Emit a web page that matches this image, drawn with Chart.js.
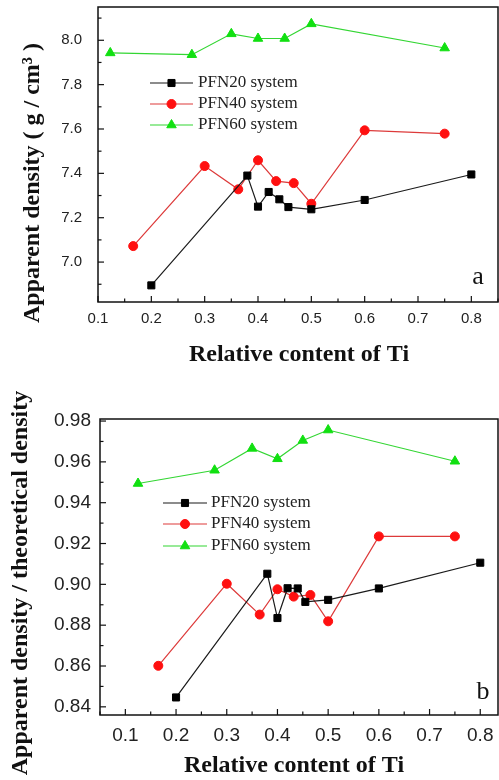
<!DOCTYPE html>
<html>
<head>
<meta charset="utf-8">
<script src="https://cdn.jsdelivr.net/npm/chart.js@4.4.1/dist/chart.umd.min.js"></script>
<style>
    html, body { margin: 0; padding: 0; background: #fff; }
    #wrap { position: relative; width: 499px; height: 780px; }
    .panel { position: absolute; left: 0; width: 499px; }
</style>
</head>
<body>
<div id="wrap">
    <div class="panel" style="top:0;height:380px"><canvas id="chartA" width="499" height="380"></canvas></div>
    <div class="panel" style="top:380px;height:400px"><canvas id="chartB" width="499" height="400"></canvas></div>
</div>
<script>
// series names
const seriesNames = ['PFN20 system', 'PFN40 system', 'PFN60 system'];

// panel a - apparent density (g/cm3)
const xTicksA = [0.1, 0.2, 0.3, 0.4, 0.5, 0.6, 0.7, 0.8];
const yTicksA = [7.0, 7.2, 7.4, 7.6, 7.8, 8.0];
const pfn20TiA = [0.2, 0.38, 0.4, 0.42, 0.44, 0.457, 0.5, 0.6, 0.8];
const pfn20A   = [6.895, 7.39, 7.25, 7.316, 7.283, 7.248, 7.238, 7.28, 7.395];
const pfn40TiA = [0.166, 0.3, 0.363, 0.4, 0.434, 0.467, 0.5, 0.6, 0.75];
const pfn40A   = [7.072, 7.433, 7.328, 7.459, 7.365, 7.356, 7.263, 7.594, 7.579];
const pfn60TiA = [0.123, 0.276, 0.35, 0.4, 0.45, 0.5, 0.75];
const pfn60A   = [7.943, 7.935, 8.029, 8.008, 8.008, 8.074, 7.965];

// panel b - relative density
const xTicksB = [0.1, 0.2, 0.3, 0.4, 0.5, 0.6, 0.7, 0.8];
const yTicksB = [0.84, 0.86, 0.88, 0.90, 0.92, 0.94, 0.96, 0.98];
const pfn20TiB = [0.2, 0.38, 0.4, 0.42, 0.44, 0.455, 0.5, 0.6, 0.8];
const pfn20B   = [0.8446, 0.9052, 0.8835, 0.8981, 0.898, 0.8914, 0.8924, 0.898, 0.9106];
const pfn40TiB = [0.165, 0.3, 0.365, 0.4, 0.432, 0.465, 0.5, 0.6, 0.75];
const pfn40B   = [0.8601, 0.9003, 0.8852, 0.8976, 0.894, 0.8948, 0.8819, 0.9235, 0.9235];
const pfn60TiB = [0.125, 0.276, 0.35, 0.4, 0.45, 0.5, 0.75];
const pfn60B   = [0.9494, 0.9559, 0.9666, 0.9615, 0.9705, 0.9756, 0.9603];

const styles = [
    { line: '#1a1a1a', fill: '#000000', pointStyle: 'rect', radius: 5 },
    { line: '#dd3a3a', fill: '#ff1010', pointStyle: 'circle', radius: 4.5 },
    { line: '#33d633', fill: '#11e011', pointStyle: 'triangle', radius: 5.5 }
];

function makeDatasets(xs, ys) {
    return xs.map((xArr, i) => ({
        label: seriesNames[i],
        data: xArr.map((x, j) => ({ x: x, y: ys[i][j] })),
        borderColor: styles[i].line,
        backgroundColor: styles[i].fill,
        pointBackgroundColor: styles[i].fill,
        pointBorderColor: styles[i].fill,
        pointBorderWidth: 1,
        pointStyle: styles[i].pointStyle,
        pointRadius: styles[i].radius,
        pointHoverRadius: styles[i].radius,
        borderWidth: 1.2,
        tension: 0
    }));
}

// frame, inward ticks, titles, legend, panel letter
const decorPlugin = {
    id: 'decor',
    afterDraw(chart, args, o) {
        const ctx = chart.ctx;
        const a = chart.chartArea;
        const xs = chart.scales.x, ys = chart.scales.y;
        ctx.save();
        ctx.strokeStyle = '#111';
        ctx.lineWidth = 1.5;
        ctx.strokeRect(a.left, a.top, a.right - a.left, a.bottom - a.top);

        ctx.lineWidth = 1.2;
        const tickX = (v, len) => {
            const p = xs.getPixelForValue(v);
            if (p < a.left - 0.5 || p > a.right + 0.5) return;
            ctx.beginPath(); ctx.moveTo(p, a.bottom); ctx.lineTo(p, a.bottom - len); ctx.stroke();
        };
        const tickY = (v, len) => {
            const p = ys.getPixelForValue(v);
            if (p < a.top - 0.5 || p > a.bottom + 0.5) return;
            ctx.beginPath(); ctx.moveTo(a.left, p); ctx.lineTo(a.left + len, p); ctx.stroke();
        };
        o.xTicks.forEach(v => tickX(v, 6));
        o.yTicks.forEach(v => tickY(v, 6));
        const xStep = o.xTicks[1] - o.xTicks[0];
        const yStep = o.yTicks[1] - o.yTicks[0];
        for (let v = o.xTicks[0] - xStep / 2; v <= xs.max + 1e-9; v += xStep) tickX(v, 3.5);
        for (let v = o.yTicks[0] - yStep / 2; v <= ys.max + 1e-9; v += yStep) tickY(v, 3.5);

        // axis titles
        ctx.fillStyle = '#111';
        ctx.textAlign = 'center';
        ctx.textBaseline = 'middle';
        ctx.font = 'bold 24px "Liberation Serif", "Times New Roman", serif';
        ctx.fillText(o.xTitle, o.xTitlePos[0], o.xTitlePos[1]);
        ctx.save();
        ctx.translate(o.yTitlePos[0], o.yTitlePos[1]);
        ctx.rotate(-Math.PI / 2);
        ctx.fillText(o.yTitle, 0, 0);
        ctx.restore();

        // panel letter
        ctx.font = '26px "Liberation Serif", "Times New Roman", serif';
        ctx.fillText(o.letter, o.letterPos[0], o.letterPos[1]);

        // legend
        ctx.font = '17px "Liberation Serif", "Times New Roman", serif';
        ctx.textAlign = 'left';
        chart.data.datasets.forEach((ds, i) => {
            const y = o.legend.rows[i];
            const x0 = o.legend.x;
            ctx.strokeStyle = ds.borderColor;
            ctx.lineWidth = 1.2;
            ctx.beginPath(); ctx.moveTo(x0, y); ctx.lineTo(x0 + o.legend.len, y); ctx.stroke();
            ctx.fillStyle = ds.pointBackgroundColor;
            ctx.strokeStyle = ds.pointBorderColor;
            ctx.lineWidth = 1;
            Chart.helpers.drawPoint(ctx, { pointStyle: ds.pointStyle, radius: ds.pointRadius, rotation: 0, borderWidth: 1 }, x0 + o.legend.len / 2, y);
            ctx.fillStyle = '#222';
            ctx.fillText(ds.label, o.legend.textX, y);
        });
        ctx.restore();
    }
};

function makeChart(id, cfg) {
    return new Chart(document.getElementById(id), {
        type: 'line',
        data: { datasets: makeDatasets(cfg.xs, cfg.ys) },
        options: {
            responsive: false,
            animation: false,
            layout: { autoPadding: false, padding: { top: cfg.top, right: 1, left: 0, bottom: 0 } },
            plugins: {
                legend: { display: false },
                tooltip: { enabled: false },
                decor: cfg.decor
            },
            scales: {
                x: {
                    type: 'linear',
                    min: cfg.xMin, max: cfg.xMax,
                    grid: { display: false, drawTicks: false },
                    border: { display: false },
                    ticks: {
                        padding: cfg.xPad,
                        color: '#222',
                        font: { family: '"Liberation Sans", Arial, sans-serif', size: cfg.tickFont },
                        callback: v => v.toFixed(1)
                    },
                    afterBuildTicks: s => { s.ticks = cfg.xTicks.map(v => ({ value: v })); },
                    afterFit: s => { s.height = cfg.xAxisH; s.paddingLeft = 0; s.paddingRight = 0; }
                },
                y: {
                    type: 'linear',
                    min: cfg.yMin, max: cfg.yMax,
                    grid: { display: false, drawTicks: false },
                    border: { display: false },
                    ticks: {
                        padding: cfg.yPad,
                        color: '#222',
                        font: { family: '"Liberation Sans", Arial, sans-serif', size: cfg.tickFont },
                        callback: v => v.toFixed(cfg.yDigits)
                    },
                    afterBuildTicks: s => { s.ticks = cfg.yTicks.map(v => ({ value: v })); },
                    afterFit: s => { s.width = cfg.yAxisW; s.paddingTop = 0; s.paddingBottom = 0; }
                }
            }
        },
        plugins: [decorPlugin]
    });
}

makeChart('chartA', {
    xs: [pfn20TiA, pfn40TiA, pfn60TiA],
    ys: [pfn20A, pfn40A, pfn60A],
    xTicks: xTicksA, yTicks: yTicksA,
    xMin: 0.1, xMax: 0.85, yMin: 6.82, yMax: 8.15,
    top: 7, xAxisH: 78, yAxisW: 98, xPad: 8, yPad: 16, tickFont: 15, yDigits: 1,
    decor: {
        xTicks: xTicksA, yTicks: yTicksA,
        xTitle: 'Relative content of Ti', xTitlePos: [299, 355],
        yTitle: 'Apparent density ( g / cm\u00B3 )', yTitlePos: [33, 183],
        letter: 'a', letterPos: [478, 277],
        legend: { x: 150, len: 43, textX: 198, rows: [83, 104, 125] }
    }
});

makeChart('chartB', {
    xs: [pfn20TiB, pfn40TiB, pfn60TiB],
    ys: [pfn20B, pfn40B, pfn60B],
    xTicks: xTicksB, yTicks: yTicksB,
    xMin: 0.05, xMax: 0.835, yMin: 0.836, yMax: 0.981,
    top: 39, xAxisH: 65, yAxisW: 100, xPad: 9, yPad: 9, tickFont: 19, yDigits: 2,
    decor: {
        xTicks: xTicksB, yTicks: yTicksB,
        xTitle: 'Relative content of Ti', xTitlePos: [294, 386],
        yTitle: 'Apparent density / theoretical density', yTitlePos: [21, 203],
        letter: 'b', letterPos: [483, 312],
        legend: { x: 163, len: 44, textX: 211, rows: [123, 144, 166] }
    }
});
</script>
</body>
</html>
